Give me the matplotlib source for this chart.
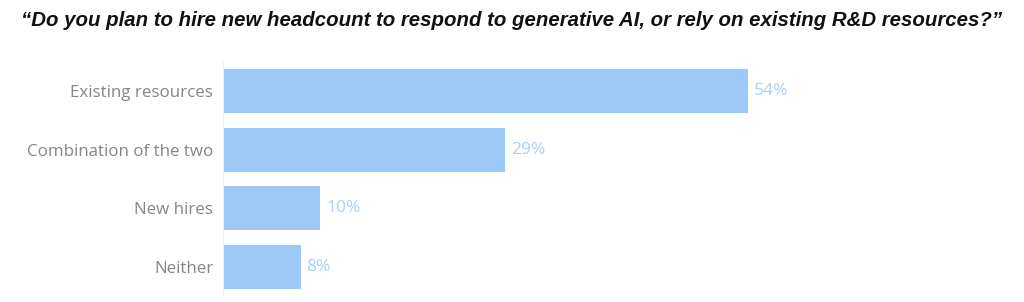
import matplotlib.pyplot as plt

categorias = ['Existing resources', 'Combination of the two', 'New hires', 'Neither']
valores = [54, 29, 10, 8]
etiquetas = ['54%', '29%', '10%', '8%']

titulo = '\u201cDo you plan to hire new headcount to respond to generative AI, or rely on existing R&D resources?\u201d'

fig = plt.figure(figsize=(10.24, 3.02), dpi=100)
ax = fig.add_axes([223 / 1024, 1 - 296 / 302, 1 - 223 / 1024, (296 - 62) / 302])

posiciones = range(len(categorias))
ax.barh(posiciones, valores, height=0.75, color='#9DC9F7', edgecolor='none')

# etiquetas de valor a la derecha de cada barra
for p, v, e in zip(posiciones, valores, etiquetas):
    ax.text(v + 0.6, p, e, va='center', ha='left', fontsize=12.5,
            color='#A8CFF8', family='Open Sans')

ax.set_xlim(0, (1024 - 223) / 9.72)
ax.set_ylim(3.5, -0.5)
ax.set_yticks(list(posiciones))
ax.set_yticklabels(categorias, fontsize=12.2, color='#858585', family='Open Sans')
ax.tick_params(axis='y', length=0, pad=7)
ax.set_xticks([])
for s in ['top', 'right', 'bottom']:
    ax.spines[s].set_visible(False)
ax.spines['left'].set_color('#EEEEEE')
ax.spines['left'].set_linewidth(0.8)

fig.text(0.5, 1 - 21 / 302, titulo, ha='center', va='center', fontsize=14.7,
         fontweight='bold', fontstyle='italic', family='Liberation Sans', color='#111111')

fig.savefig('out.png', dpi=100)
